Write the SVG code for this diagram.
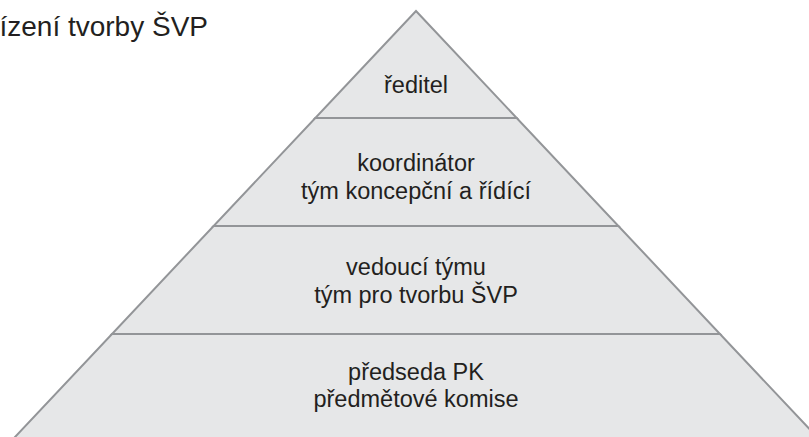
<svg xmlns="http://www.w3.org/2000/svg" width="809" height="437" viewBox="0 0 809 437">
<style>
.tier{fill:#e6e7e8;stroke:#939598;stroke-width:2;stroke-linejoin:miter}
.lbl{font-family:"Liberation Sans",Arial,sans-serif;font-size:23.5px;fill:#231f20;text-anchor:middle}
.title{font-family:"Liberation Sans",Arial,sans-serif;font-size:28px;fill:#231f20;text-anchor:end}
</style>
<rect width="809" height="437" fill="#ffffff"/>
<text class="title" x="208" y="36">ízení tvorby ŠVP</text>
<g id="tier4">
<polygon class="tier" points="112,334 720,334 819.8,440 12.2,440"/>
<text class="lbl" x="416" y="380">předseda PK</text>
<text class="lbl" x="416" y="407">předmětové komise</text>
</g>
<g id="tier3">
<polygon class="tier" points="213.6,226 618.4,226 720,334 112,334"/>
<text class="lbl" x="416" y="275">vedoucí týmu</text>
<text class="lbl" x="416" y="303">tým pro tvorbu ŠVP</text>
</g>
<g id="tier2">
<polygon class="tier" points="315.3,118 516.7,118 618.4,226 213.6,226"/>
<text class="lbl" x="416" y="171">koordinátor</text>
<text class="lbl" x="416" y="199">tým koncepční a řídící</text>
</g>
<g id="tier1">
<polygon class="tier" points="416,11 516.7,118 315.3,118"/>
<text class="lbl" x="416" y="93">ředitel</text>
</g>
<g id="connectors"/>
</svg>
